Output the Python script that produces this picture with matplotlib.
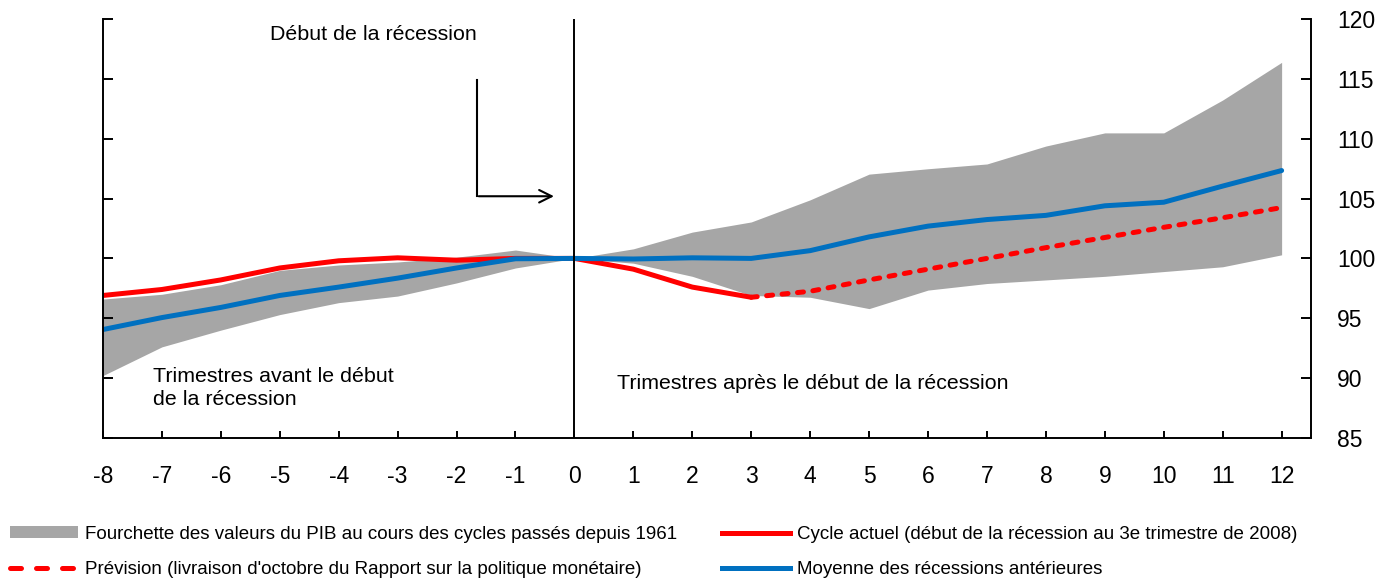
import matplotlib
matplotlib.use("Agg")
import matplotlib.pyplot as plt
from matplotlib.lines import Line2D
from matplotlib.patches import Patch

plt.rcParams["font.family"] = ["Liberation Sans", "DejaVu Sans"]
plt.rcParams["axes.unicode_minus"] = False

# trimestres relatifs au début de la récession
quarters = list(range(-8, 13))

band_low = [90.2, 92.6, 94.0, 95.3, 96.3, 96.85, 97.95, 99.2, 100.0,
            99.6, 98.5, 96.9, 96.75, 95.8, 97.35, 97.9, 98.2, 98.5, 98.9, 99.3, 100.3]
band_high = [96.6, 97.0, 97.8, 99.0, 99.45, 99.7, 100.1, 100.7, 100.0,
             100.8, 102.2, 103.05, 104.9, 107.05, 107.5, 107.9, 109.4, 110.5, 110.5, 113.25, 116.4]

moyenne = [94.05, 95.05, 95.9, 96.9, 97.6, 98.35, 99.2, 99.97, 100.0,
           99.95, 100.05, 100.0, 100.65, 101.8, 102.7, 103.25, 103.6, 104.4, 104.7, 106.05, 107.35]

cycle_q = list(range(-8, 4))
cycle = [96.9, 97.4, 98.2, 99.2, 99.8, 100.05, 99.85, 100.0, 100.0, 99.1, 97.6, 96.75]

prev_q = list(range(3, 13))
prevision = [96.75, 97.25, 98.2, 99.1, 100.0, 100.9, 101.75, 102.6, 103.4, 104.25]

GREY = "#A6A6A6"
RED = "#FF0000"
BLUE = "#0070C0"
TXT = 15.4

fig = plt.figure(figsize=(13.97, 5.82), dpi=100)
ax = fig.add_axes([0.0737, 0.2479, 0.8648, 0.7189])

ax.fill_between(quarters, band_low, band_high, color=GREY, linewidth=0)
ax.plot(cycle_q, cycle, color=RED, lw=3.6, solid_capstyle="round")
ax.plot(prev_q, prevision, color=RED, lw=3.6, dashes=(1.2, 1.9),
        dash_capstyle="round")
ax.plot(quarters, moyenne, color=BLUE, lw=3.6, solid_capstyle="round")

ax.axvline(0, color="black", lw=1.4)

ax.set_xlim(-8, 12.5)
ax.set_ylim(85, 120)
ax.set_xticks(quarters)
ax.set_yticks(range(85, 121, 5))

ax.spines["top"].set_visible(False)
for s in ("left", "right", "bottom"):
    ax.spines[s].set_linewidth(1.4)
ax.tick_params(axis="y", direction="in", length=7, width=1.4,
               left=True, right=True, labelleft=False, labelright=True,
               labelsize=16.5, pad=18.5)
ax.tick_params(axis="x", direction="in", length=5, width=1.4,
               labelsize=16.5, pad=20)

# annotations
ax.text(-5.17, 118.28, "Début de la récession", fontsize=TXT, ha="left", va="baseline")
ax.plot([-1.65, -1.65], [114.9, 105.2], color="black", lw=1.5)
ax.annotate("", xy=(-0.3, 105.2), xytext=(-1.67, 105.2),
            arrowprops=dict(arrowstyle="->,head_length=0.9,head_width=0.45",
                            color="black", lw=1.5))
ax.text(-7.15, 89.67, "Trimestres avant le début", fontsize=TXT,
        ha="left", va="baseline")
ax.text(-7.15, 87.71, "de la récession", fontsize=TXT, ha="left", va="baseline")
ax.text(0.72, 89.08, "Trimestres après le début de la récession", fontsize=TXT,
        ha="left", va="baseline")

# légende en deux colonnes
left_handles = [
    Patch(facecolor=GREY, edgecolor="none"),
    Line2D([], [], color=RED, lw=3.6, dashes=(2.2, 3.0), dash_capstyle="round"),
]
left_labels = [
    "Fourchette des valeurs du PIB au cours des cycles passés depuis 1961",
    "Prévision (livraison d'octobre du Rapport sur la politique monétaire)",
]
right_handles = [
    Line2D([], [], color=RED, lw=3.6),
    Line2D([], [], color=BLUE, lw=3.6),
]
right_labels = [
    "Cycle actuel (début de la récession au 3e trimestre de 2008)",
    "Moyenne des récessions antérieures",
]
for handles, labels, x0 in ((left_handles, left_labels, 10 / 1397),
                            (right_handles, right_labels, 722 / 1397)):
    fig.legend(handles, labels, loc="upper left", bbox_to_anchor=(x0, 1 - 526 / 582),
               frameon=False, fontsize=13.5, handlelength=3.6, handleheight=0.6,
               handletextpad=0.4, labelspacing=0.95, borderpad=0, borderaxespad=0)

fig.savefig("out.png", dpi=100)
